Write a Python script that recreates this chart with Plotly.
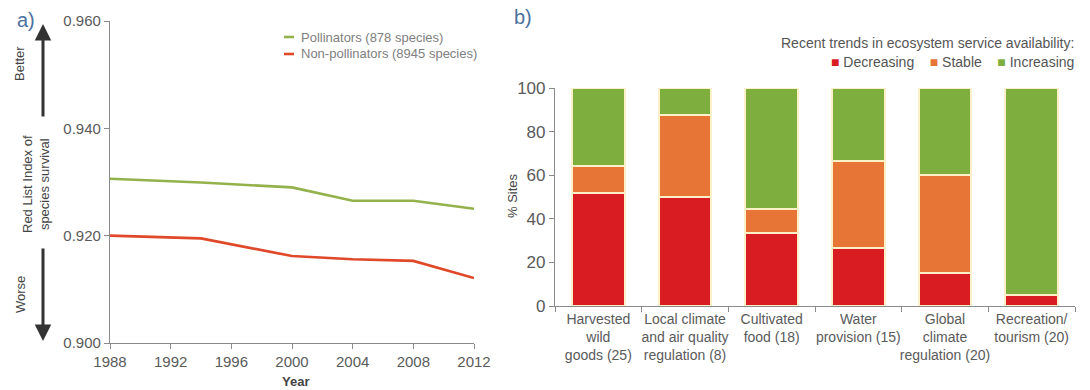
import plotly.graph_objects as go

# ---- Panel a: Red List Index over time ----
years = [1988, 1994, 2000, 2004, 2008, 2012]
pollinators = [0.9306, 0.9299, 0.9290, 0.9265, 0.9265, 0.9250]
non_pollinators = [0.9200, 0.9195, 0.9162, 0.9156, 0.9153, 0.9121]
rli_ticks = [0.900, 0.920, 0.940, 0.960]
year_ticks = [1988, 1992, 1996, 2000, 2004, 2008, 2012]

# ---- Panel b: ecosystem service trends (% of sites) ----
services = [
    "Harvested<br>wild<br>goods (25)",
    "Local climate<br>and air quality<br>regulation (8)",
    "Cultivated<br>food (18)",
    "Water<br>provision (15)",
    "Global<br>climate<br>regulation (20)",
    "Recreation/<br>tourism (20)",
]
decreasing = [52, 50, 33.3, 26.7, 15, 5]
stable = [12, 37.5, 11.1, 40, 45, 0]
increasing = [36, 12.5, 55.6, 33.3, 40, 95]

W, H = 1090, 390
FONT = "Liberation Sans, Arial, sans-serif"
AXIS = "#8a8a8a"
TXT = "#5a5a5a"
GREEN_LINE = "#93b24c"
RED_LINE = "#e0482a"
C_DEC, C_STA, C_INC = "#d91b22", "#e67536", "#7eae3d"
SEP = "#fbf0c8"
LETTER = "#4a72a0"


def px(x):
    return x / W


def py(y):
    return (H - y) / H


fig = go.Figure()

fig.add_trace(go.Scatter(x=years, y=pollinators, mode="lines", name="Pollinators (878 species)",
                         line=dict(color=GREEN_LINE, width=2.6), showlegend=False,
                         xaxis="x", yaxis="y"))
fig.add_trace(go.Scatter(x=years, y=non_pollinators, mode="lines", name="Non-pollinators (8945 species)",
                         line=dict(color=RED_LINE, width=2.6), showlegend=False,
                         xaxis="x", yaxis="y"))

for name, vals, col in [("Decreasing", decreasing, C_DEC),
                        ("Stable", stable, C_STA),
                        ("Increasing", increasing, C_INC)]:
    fig.add_trace(go.Bar(x=services, y=vals, name=name, showlegend=False,
                         marker=dict(color=col, line=dict(color=SEP, width=2)),
                         xaxis="x2", yaxis="y2"))

axis_common = dict(showgrid=False, zeroline=False, showline=True, linecolor=AXIS,
                   linewidth=1.2, ticks="outside", ticklen=5, tickcolor=AXIS, automargin=False)

fig.update_layout(
    width=W, height=H,
    margin=dict(l=0, r=0, t=0, b=0),
    paper_bgcolor="white", plot_bgcolor="white",
    barmode="stack", bargap=0.39,
    xaxis=dict(domain=[px(110), px(474)], range=[1988, 2012], tickvals=year_ticks,
               tickfont=dict(family=FONT, size=15, color=TXT), **axis_common),
    yaxis=dict(domain=[py(343), py(21)], range=[0.900, 0.960], tickvals=rli_ticks,
               tickformat=".3f", tickfont=dict(family=FONT, size=15, color=TXT), **axis_common),
    xaxis2=dict(domain=[px(555), px(1075)], anchor="y2", tickson="boundaries", tickangle=0,
                tickfont=dict(family=FONT, size=14, color=TXT), **axis_common),
    yaxis2=dict(domain=[py(306), py(88)], anchor="x2", range=[0, 100],
                tickvals=[0, 20, 40, 60, 80, 100],
                tickfont=dict(family=FONT, size=17, color=TXT), **axis_common),
)


def label(text, x, y, size=13, color="#444444", angle=0, xanchor="center"):
    return dict(text=text, x=px(x), y=py(y), xref="paper", yref="paper", showarrow=False,
                xanchor=xanchor, yanchor="middle", textangle=angle,
                font=dict(family=FONT, size=size, color=color))


ann = [
    # panel letters
    label("a)", 26, 20, size=20, color=LETTER),
    label("b)", 523, 17, size=20, color=LETTER),
    # panel a titles
    label("<b>Year</b>", 295, 381, size=13),
    label("Red List Index of<br>species survival", 36, 184, size=13, angle=-90),
    label("Better", 20, 64, size=13, angle=-90),
    label("Worse", 20, 295, size=13, angle=-90),
    # better / worse arrows
    dict(text="", x=px(43), y=py(24), xref="paper", yref="paper", ax=0, ay=94,
         showarrow=True, arrowhead=2, arrowsize=1.1, arrowwidth=3, arrowcolor="#333333"),
    dict(text="", x=px(43), y=py(341), xref="paper", yref="paper", ax=0, ay=-94,
         showarrow=True, arrowhead=2, arrowsize=1.1, arrowwidth=3, arrowcolor="#333333"),
]

# panel a legend
for yy, text, col in [(37, "Pollinators (878 species)", GREEN_LINE),
                      (54, "Non-pollinators (8945 species)", RED_LINE)]:
    fig.add_shape(type="line", xref="paper", yref="paper", x0=px(284), x1=px(294),
                  y0=py(yy), y1=py(yy), line=dict(color=col, width=2.6))
    ann.append(label(text, 299, yy, size=13, color="#808080", xanchor="left"))

# panel b titles and legend
ann.append(label("% Sites", 512, 196, size=13, angle=-90))
ann.append(label("Recent trends in ecosystem service availability:", 1076, 43, size=14,
                 color="#555555", xanchor="right"))
legend_b = (f"<span style='color:{C_DEC}'>■</span> Decreasing    "
            f"<span style='color:{C_STA}'>■</span> Stable    "
            f"<span style='color:{C_INC}'>■</span> Increasing")
ann.append(label(legend_b, 1076, 62, size=14, color="#555555", xanchor="right"))

fig.update_layout(annotations=ann)

fig.write_html("out.html")
